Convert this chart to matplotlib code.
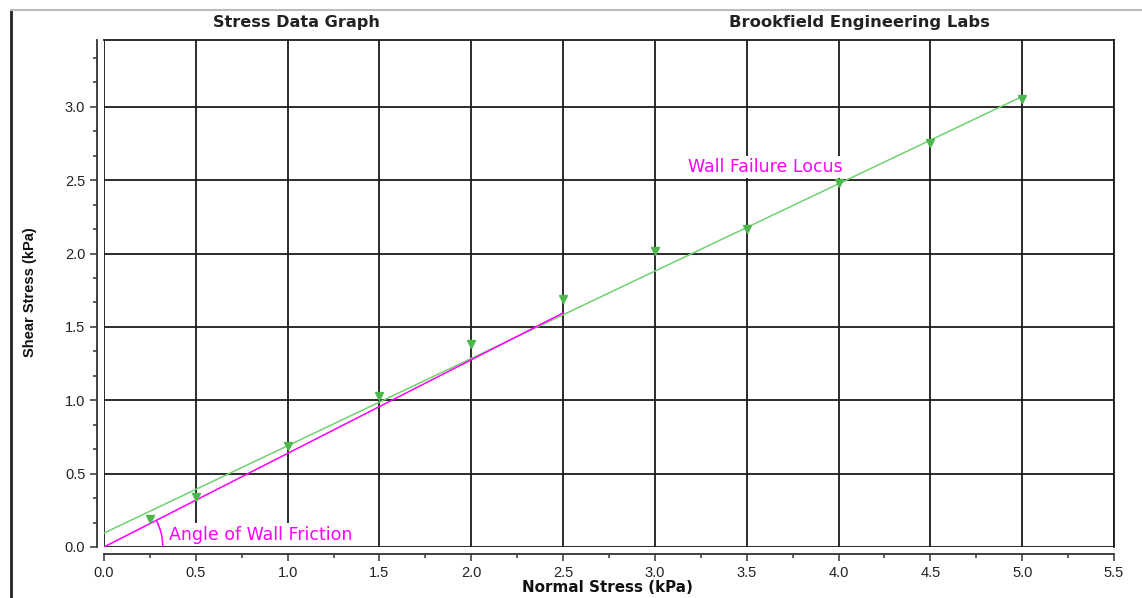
import numpy as np
import matplotlib.pyplot as plt
from matplotlib.patches import Arc
from matplotlib.ticker import MultipleLocator, AutoMinorLocator

plt.rcParams['font.family'] = ['Liberation Sans', 'DejaVu Sans']

# measured points (normal stress, shear stress), kPa
normal = [0.25, 0.5, 1.0, 1.5, 2.0, 2.5, 3.0, 3.5, 4.0, 4.5, 5.0]
shear = [0.19, 0.34, 0.69, 1.03, 1.38, 1.69, 2.02, 2.17, 2.48, 2.75, 3.05]

# fitted wall failure locus and the line through the origin
locus_x = [0.0, 5.0]
locus_y = [0.095, 3.07]
friction_x = [0.0, 2.5]
friction_y = [0.0, 1.595]

green = '#6fd36f'
magenta = '#ff00ff'

fig = plt.figure(figsize=(11.42, 5.98), dpi=100)
ax = fig.add_axes([104 / 1142, 1 - 547 / 598, (1114 - 104) / 1142, (547 - 40) / 598])

ax.plot(locus_x, locus_y, color=green, lw=1.1, zorder=3)
ax.plot(friction_x, friction_y, color=magenta, lw=1.1, zorder=4)
ax.plot(normal, shear, ls='none', marker='v', ms=5.5, color='#4cb84c', zorder=5)

ang = np.degrees(np.arctan2(friction_y[1], friction_x[1]))
ax.add_patch(Arc((0, 0), 0.64, 0.80, theta1=0, theta2=ang, color=magenta, lw=1.1, zorder=4))

box = dict(facecolor='white', edgecolor='none', pad=1.5)
ax.text(0.355, 0.085, 'Angle of Wall Friction', color=magenta, fontsize=12.5, va='center',
        family='DejaVu Sans', bbox=box, zorder=2)
ax.text(3.18, 2.59, 'Wall Failure Locus', color=magenta, fontsize=12.5, va='center',
        family='DejaVu Sans', bbox=box, zorder=2)

ax.set_xlim(0, 5.5)
ax.set_ylim(0, 3.455)
ax.xaxis.set_major_locator(MultipleLocator(0.5))
ax.yaxis.set_major_locator(MultipleLocator(0.5))
ax.xaxis.set_minor_locator(AutoMinorLocator(2))
ax.yaxis.set_minor_locator(AutoMinorLocator(3))
ax.grid(True, which='major', color='#1a1a1a', lw=1.3)
ax.set_axisbelow(True)

for s in ['left', 'bottom']:
    ax.spines[s].set_position(('outward', 5))
    ax.spines[s].set_linewidth(1.3)
    ax.spines[s].set_color('#333333')
for s in ['top', 'right']:
    ax.spines[s].set_linewidth(1.3)
    ax.spines[s].set_color('#1a1a1a')

ax.tick_params(which='major', length=5, width=1.1, color='#333333', labelsize=10.5, labelcolor='#222222')
ax.tick_params(which='minor', length=3, width=1.1, color='#333333')
ax.set_xticks(np.arange(0, 5.51, 0.5))
ax.set_xticklabels([f'{v:.1f}' for v in np.arange(0, 5.51, 0.5)])
ax.set_yticks(np.arange(0, 3.01, 0.5))
ax.set_yticklabels([f'{v:.1f}' for v in np.arange(0, 3.01, 0.5)])

fig.text(607 / 1142, 1 - 587 / 598, 'Normal Stress (kPa)', fontsize=10.9, fontweight='bold',
         ha='center', va='center', family='DejaVu Sans', color='#111111')
fig.text(30 / 1142, 1 - 292 / 598, 'Shear Stress (kPa)', rotation=90, fontsize=10.5,
         fontweight='bold', ha='center', va='center', color='#111111')

fig.text(296 / 1142, 1 - 22 / 598, 'Stress Data Graph', fontsize=11.6, fontweight='bold',
         ha='center', va='center', color='#222222', family='DejaVu Sans')
fig.text(859 / 1142, 1 - 22 / 598, 'Brookfield Engineering Labs', fontsize=11.8,
         fontweight='bold', ha='center', va='center', color='#222222', family='DejaVu Sans')

# window frame edges
fig.add_artist(plt.Line2D([11 / 1142, 11 / 1142], [0, 1 - 10 / 598], color='#222222', lw=2))
fig.add_artist(plt.Line2D([11 / 1142, 1], [1 - 10 / 598, 1 - 10 / 598], color='#bbbbbb', lw=1.5))

fig.savefig('out.png', dpi=100)
